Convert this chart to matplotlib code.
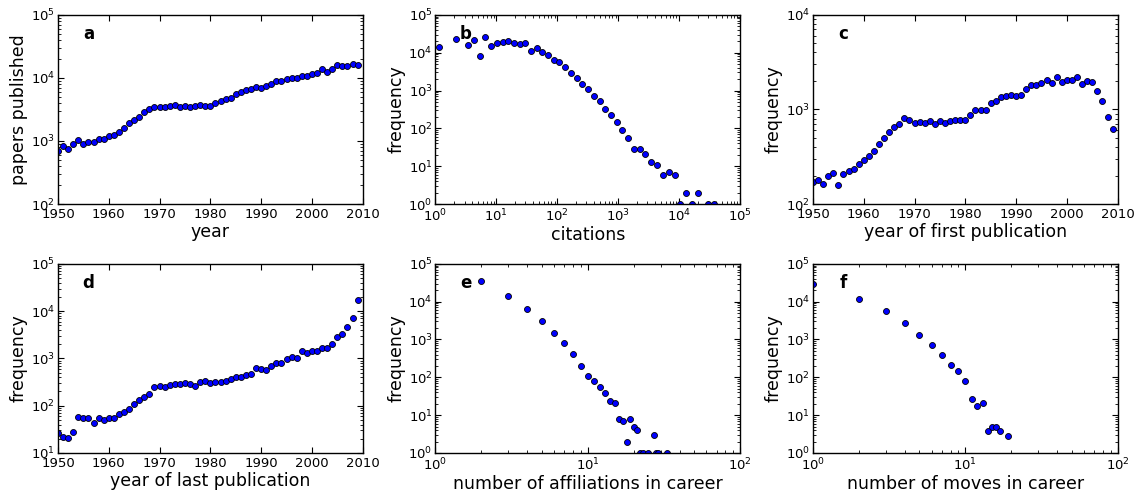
import matplotlib
matplotlib.use('Agg')
import matplotlib.pyplot as plt

# panel a: papers published per year
years = list(range(1950, 2010))
papers = [690, 820, 750, 900, 1020, 900, 950, 960, 1070, 1070,
          1180, 1240, 1370, 1580, 1920, 2120, 2390, 2900, 3240, 3400,
          3400, 3400, 3530, 3710, 3450, 3610, 3450, 3530, 3650, 3600,
          3580, 3980, 4290, 4560, 4730, 5470, 6030, 6410, 6640, 7150,
          6810, 7410, 7980, 9000, 9000, 9680, 10050, 10000, 10800, 10800,
          11620, 12060, 13800, 12500, 13800, 15800, 15400, 15400, 16700, 16100]

# panel b: citation distribution
citations = [1.16, 2.19, 3.44, 4.26, 5.28, 6.55, 8.11, 10.05, 12.6, 15.6,
             19.4, 24.0, 29.7, 36.8, 45.6, 56.5, 70.1, 86.8, 107.6, 135,
             167, 207, 257, 318, 399, 495, 613, 760, 941, 1167,
             1446, 1810, 2248, 2786, 3490, 4325, 5500, 6800, 8440, 10300,
             12800, 16100, 19950, 30200, 37300]
cit_freq = [13700, 23200, 16100, 21400, 8270, 26200, 14600, 18200, 19400, 20600,
            17500, 16800, 17800, 11200, 13200, 10100, 8600, 6230, 5510, 4150,
            2880, 2120, 1445, 1066, 711, 535, 330, 220, 144, 92,
            56, 29, 29, 20.5, 12.6, 10.7, 6.0, 6.9, 6.0, 1,
            2, 1, 2, 1, 1]

# panel c: year of first publication
first_pub = [170, 181, 164, 198, 214, 160, 209, 221, 236, 267,
             294, 321, 366, 427, 494, 581, 651, 695, 810, 778,
             712, 729, 723, 747, 695, 759, 718, 759, 765, 765,
             765, 865, 976, 991, 976, 1175, 1224, 1349, 1371, 1405,
             1394, 1429, 1641, 1808, 1820, 1897, 2023, 1880, 2213, 1960,
             2055, 2023, 2213, 1867, 1994, 1960, 1563, 1216, 838, 615]

# panel d: year of last publication
last_pub = [27, 22, 20.5, 28, 59, 54, 54, 44, 54, 49,
            54, 55, 66, 74, 87, 107, 135, 155, 180, 246,
            262, 250, 279, 293, 293, 298, 288, 266, 318, 329,
            303, 323, 323, 334, 368, 413, 413, 455, 478, 620,
            590, 580, 683, 804, 804, 991, 1093, 1025, 1420, 1286,
            1465, 1465, 1695, 1695, 2027, 2850, 3355, 4645, 7310, 17300]

# panel e: affiliations in career
n_affil = [2, 3, 4, 5, 6, 7, 8, 9, 10, 11, 12, 13, 14, 15, 16, 17, 18, 19, 20, 21,
           22, 23, 25, 27, 28, 29, 33]
affil_freq = [34100, 13700, 6350, 3130, 1477, 804, 403, 203, 110, 81, 56, 38, 23, 21,
              7.9, 6.8, 2, 7.9, 5, 4, 1, 1, 1, 3, 1, 1, 1]

# panel f: moves in career
n_moves = [1, 2, 3, 4, 5, 6, 7, 8, 9, 10, 11, 12, 13, 14, 15, 16, 17, 19]
moves_freq = [28500, 11700, 5510, 2770, 1334, 711, 387, 211, 146, 82,
              26.7, 17.7, 20.4, 3.9, 4.9, 4.9, 3.9, 2.9]

plt.rcParams['xtick.direction'] = 'in'
plt.rcParams['ytick.direction'] = 'in'
plt.rcParams['xtick.top'] = True
plt.rcParams['ytick.right'] = True
plt.rcParams['xtick.major.size'] = 4
plt.rcParams['ytick.major.size'] = 4
plt.rcParams['xtick.minor.size'] = 2
plt.rcParams['ytick.minor.size'] = 2
plt.rcParams['xtick.labelsize'] = 9.5
plt.rcParams['ytick.labelsize'] = 9.5
plt.rcParams['axes.labelsize'] = 12.5
plt.rcParams['axes.linewidth'] = 1.0

fig = plt.figure(figsize=(11.37, 4.94), dpi=100)

lefts = [0.051, 0.383, 0.715]
bottoms = [0.587, 0.083]
w, h = 0.268, 0.383

panels = [
    (years, papers, 'a', 'year', 'papers published', False, (1950, 2010), (1e2, 1e5)),
    (citations, cit_freq, 'b', 'citations', 'frequency', True, (1, 1e5), (1, 1e5)),
    (years, first_pub, 'c', 'year of first publication', 'frequency', False, (1950, 2010), (1e2, 1e4)),
    (years, last_pub, 'd', 'year of last publication', 'frequency', False, (1950, 2010), (1e1, 1e5)),
    (n_affil, affil_freq, 'e', 'number of affiliations in career', 'frequency', True, (1, 100), (1, 1e5)),
    (n_moves, moves_freq, 'f', 'number of moves in career', 'frequency', True, (1, 100), (1, 1e5)),
]

for i, (x, y, letter, xlab, ylab, logx, xl, yl) in enumerate(panels):
    ax = fig.add_axes([lefts[i % 3], bottoms[i // 3], w, h])
    ax.plot(x, y, 'o', color='#0000ff', markeredgecolor='black',
            markeredgewidth=0.6, markersize=4.3, linestyle='none')
    ax.set_yscale('log')
    if logx:
        ax.set_xscale('log')
    else:
        ax.set_xticks(range(1950, 2011, 10))
    ax.set_xlim(xl)
    ax.set_ylim(yl)
    ax.set_xlabel(xlab, labelpad=1)
    ax.set_ylabel(ylab, labelpad=2)
    ax.tick_params(axis='y', which='both', pad=2)
    ax.tick_params(axis='x', which='both', pad=3)
    ax.text(0.1, 0.9, letter, transform=ax.transAxes, fontsize=12,
            fontweight='bold', ha='center', va='center')

fig.savefig('out.png', dpi=100, facecolor='white')
